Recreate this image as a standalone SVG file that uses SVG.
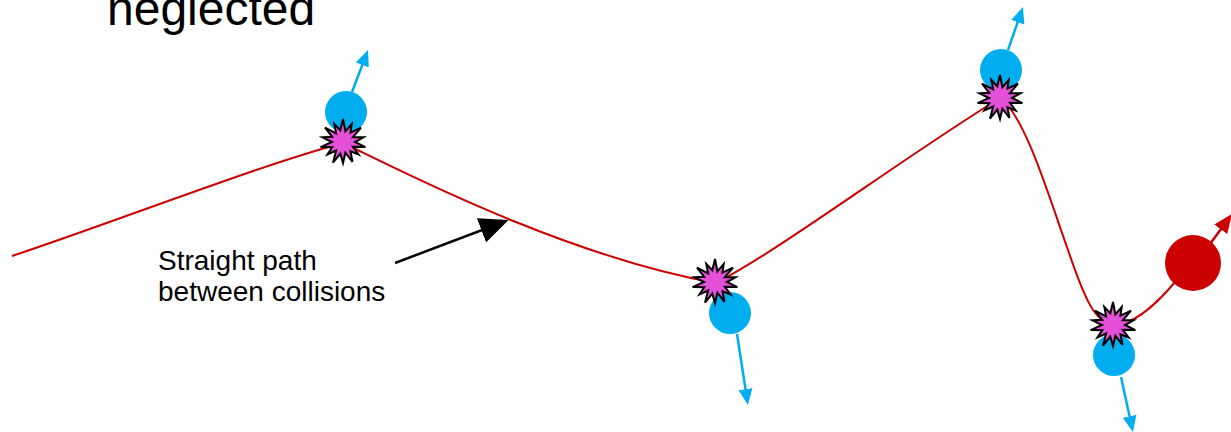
<svg xmlns="http://www.w3.org/2000/svg" width="1231" height="432" viewBox="0 0 1231 432">
<style>
.lbl{font-family:"Liberation Sans",Arial,sans-serif;fill:#000}
.path{fill:none;stroke:#CC0000;stroke-width:2}
.ball{fill:#00AEEF}
.barrow{stroke:#00AEEF;stroke-width:2.5;fill:none;marker-end:url(#bhead)}
.star{fill:#E450D8;stroke:#000;stroke-width:2;stroke-linejoin:miter}
</style>
<defs>
<marker id="bhead" markerUnits="userSpaceOnUse" markerWidth="18" markerHeight="16" refX="11" refY="7" orient="auto">
<path d="M0,0 L16,7 L0,14 z" fill="#00AEEF"/>
</marker>
<marker id="rhead" markerUnits="userSpaceOnUse" markerWidth="22" markerHeight="18" refX="14" refY="8" orient="auto">
<path d="M0,0 L19,8 L0,16 z" fill="#CC0000"/>
</marker>
<marker id="khead" markerUnits="userSpaceOnUse" markerWidth="32" markerHeight="28" refX="22" refY="13" orient="auto">
<path d="M0,0 L29,13 L0,26 z" fill="#000"/>
</marker>
<polygon id="burst" class="star" points="0,-23 2.4,-10.7 8.7,-18 7.5,-9.4 18,-14.3 9.9,-4.8 20.5,-4.7 12,0 22.4,5.1 9.9,4.8 15.6,12.5 7.5,9.4 9.5,19.8 2.4,10.7 0,21 -2.7,11.7 -10,20.7 -6.9,8.6 -15.6,12.5 -10.8,5.2 -22.4,5.1 -11,0 -20.5,-4.7 -10.8,-5.2 -18,-14.3 -6.9,-8.6 -8.7,-18 -2.7,-11.7"/>
</defs>

<g id="title">
<text class="lbl" x="107" y="25" font-size="48">neglected</text>
</g>

<g id="connectors">
<path id="trajectory" class="path" d="M12,256 C120,220 260,165 343,143 C390,165 560,255 716,283 C780,250 900,160 1000,98 C1025,115 1050,200 1068,250 C1085,300 1095,322 1113,325 C1135,325 1160,300 1175,282"/>
<line id="label-arrow" x1="395" y1="263" x2="502" y2="222.5" stroke="#000" stroke-width="2.5" marker-end="url(#khead)"/>
<line class="barrow" x1="352" y1="92" x2="366.2" y2="54.7"/>
<line class="barrow" x1="737" y1="334" x2="747.2" y2="400"/>
<line class="barrow" x1="1008" y1="50" x2="1021.3" y2="11.8"/>
<line class="barrow" x1="1121" y1="377" x2="1131.9" y2="427.1"/>
<line id="red-arrow" x1="1210" y1="244" x2="1229" y2="218" stroke="#CC0000" stroke-width="2.5" marker-end="url(#rhead)"/>
</g>

<g id="label">
<text class="lbl" x="158" y="270" font-size="28">Straight path</text>
<text class="lbl" x="158" y="301" font-size="28">between collisions</text>
</g>

<g id="collision1">
<circle class="ball" cx="346" cy="112" r="21"/>
<use href="#burst" x="343" y="142"/>
</g>
<g id="collision2">
<circle class="ball" cx="730" cy="313" r="21"/>
<use href="#burst" x="715" y="282"/>
</g>
<g id="collision3">
<circle class="ball" cx="1001" cy="70" r="21"/>
<use href="#burst" x="1000" y="98"/>
</g>
<g id="collision4">
<circle class="ball" cx="1114" cy="355" r="21"/>
<use href="#burst" x="1113" y="325"/>
</g>
<g id="particle">
<circle cx="1193" cy="263" r="28" fill="#CC0000"/>
</g>
</svg>
